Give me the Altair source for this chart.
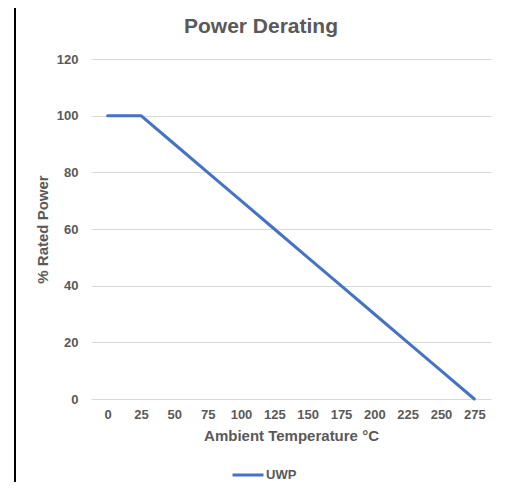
import altair as alt
import pandas as pd

temps = [0, 25, 50, 75, 100, 125, 150, 175, 200, 225, 250, 275]
power = [100, 100, 90, 80, 70, 60, 50, 40, 30, 20, 10, 0]
series_name = "UWP"
y_ticks = [0, 20, 40, 60, 80, 100, 120]
temp_labels = [str(t) for t in temps]
chart_title = "Power Derating"

df = pd.DataFrame({"temp": temp_labels, "power": power, "series": [series_name] * len(temps)})

FONT = "Liberation Sans"
GRAY = "#595959"
BLUE = "#4472C4"

line = alt.Chart(df).mark_line(strokeWidth=3, strokeCap="round", strokeJoin="round").encode(
    x=alt.X(
        "temp:O",
        sort=temp_labels,
        scale=alt.Scale(type="point", padding=0.5),
        axis=alt.Axis(
            title="Ambient Temperature °C",
            labelAngle=0,
            labelOverlap=False,
            domain=False,
            ticks=False,
            grid=False,
            labelPadding=9,
            titlePadding=7,
        ),
    ),
    y=alt.Y(
        "power:Q",
        scale=alt.Scale(domain=[0, 120], nice=False),
        axis=alt.Axis(
            values=y_ticks,
            title="% Rated Power",
            domain=False,
            ticks=False,
            grid=True,
            labelPadding=13,
            titlePadding=6,
        ),
    ),
    color=alt.Color(
        "series:N",
        scale=alt.Scale(range=[BLUE]),
        legend=alt.Legend(
            title=None,
            orient="none",
            legendX=140,
            legendY=399,
            padding=0,
            symbolType="stroke",
            symbolSize=961,
            symbolStrokeWidth=3,
            labelOffset=1,
        ),
    ),
)

title_mark = alt.Chart(alt.Data(values=[{"t": chart_title}])).mark_text(
    font=FONT, fontSize=21, fontWeight="bold", color=GRAY, align="center", baseline="alphabetic"
).encode(x=alt.value(170), y=alt.value(-26), text="t:N")

frame_left = alt.Chart(alt.Data(values=[{}])).mark_rule(color="black", strokeWidth=2).encode(
    x=alt.value(-76), y=alt.value(-51), y2=alt.value(423)
)

chart = (
    alt.layer(line, title_mark, frame_left)
    .properties(
        width=400,
        height=340,
        autosize=alt.AutoSizeParams(type="none"),
        padding={"left": 83, "top": 51, "right": 8, "bottom": 83},
        background="white",
    )
    .configure_view(stroke=None)
    .configure_axis(
        labelFont=FONT,
        labelFontSize=13,
        labelFontWeight="bold",
        labelColor=GRAY,
        titleFont=FONT,
        titleFontSize=15,
        titleFontWeight="bold",
        titleColor=GRAY,
        gridColor="#d9d9d9",
        gridWidth=1,
    )
    .configure_legend(
        labelFont=FONT,
        labelFontSize=13,
        labelFontWeight="bold",
        labelColor=GRAY,
    )
)

chart.save("out.html", embed_options={"renderer": "svg", "actions": False})
